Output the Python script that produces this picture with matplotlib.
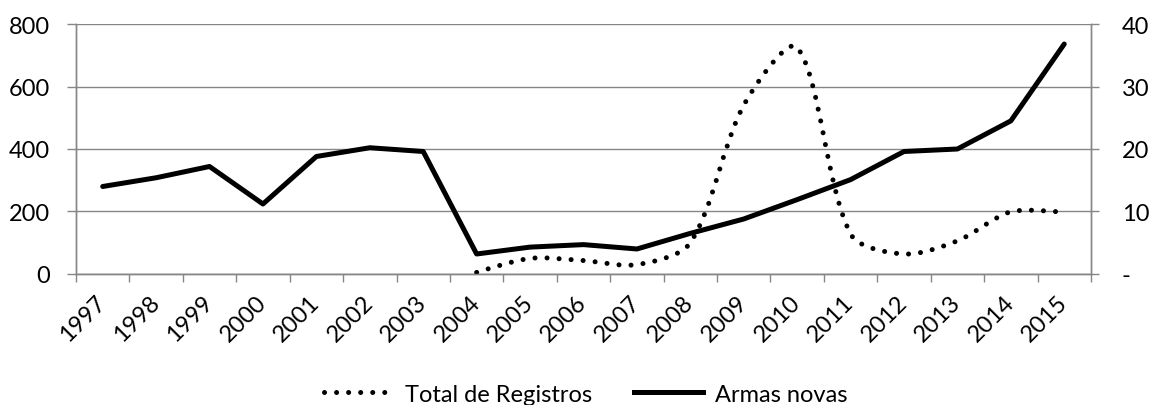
import numpy as np
import matplotlib
matplotlib.use("Agg")
import matplotlib.pyplot as plt
from matplotlib.path import Path
from matplotlib.patches import PathPatch
from matplotlib.lines import Line2D

# Series values
years = ["1997", "1998", "1999", "2000", "2001", "2002", "2003", "2004", "2005", "2006",
         "2007", "2008", "2009", "2010", "2011", "2012", "2013", "2014", "2015"]
armas_novas = [14.0, 15.4, 17.2, 11.2, 18.8, 20.2, 19.6, 3.2, 4.3, 4.7,
               4.0, 6.5, 8.8, 11.9, 15.1, 19.6, 20.0, 24.5, 36.8]
registros_years = years[7:]
total_registros = [5, 50, 43, 30, 100, 540, 725, 128, 64, 106, 199, 197]

left_ticks = [0, 200, 400, 600, 800]
right_ticks = [0, 10, 20, 30, 40]
right_labels = ["-", "10", "20", "30", "40"]

GRAY = "#868686"

plt.rcParams["font.family"] = ["Lato", "DejaVu Sans"]
plt.rcParams["font.size"] = 17


def smooth_path(ax, x, y, t=0.3):
    # bezier through the points, control arms scaled by segment length (in pixels)
    pts = ax.transData.transform(np.column_stack([x, y]).astype(float))
    n = len(pts)
    left = pts.copy()
    right = pts.copy()
    for i in range(1, n - 1):
        d01 = np.hypot(*(pts[i] - pts[i - 1]))
        d12 = np.hypot(*(pts[i + 1] - pts[i]))
        tan = pts[i + 1] - pts[i - 1]
        left[i] = pts[i] - t * d01 / (d01 + d12) * tan
        right[i] = pts[i] + t * d12 / (d01 + d12) * tan
    verts = [pts[0]]
    codes = [Path.MOVETO]
    for i in range(n - 1):
        verts += [right[i], left[i + 1], pts[i + 1]]
        codes += [Path.CURVE4] * 3
    verts = ax.transData.inverted().transform(np.array(verts))
    return Path(verts, codes)


fig = plt.figure(figsize=(11.53, 4.06), dpi=100)
ax = fig.add_axes([0.0659, 0.3227, 0.8803, 0.6157])
ax2 = ax.twinx()

ax.set_xlim(-0.5, len(years) - 0.5)
ax.set_ylim(0, 800)
ax2.set_ylim(0, 40)

xpos = np.arange(len(years))
reg_pos = np.array([years.index(y) for y in registros_years])

dot_style = (0, (0.01, 2.4))
patch = PathPatch(smooth_path(ax, reg_pos, total_registros), fill=False, lw=3.6,
                  linestyle=dot_style, capstyle="round", color="black", zorder=3)
ax.add_patch(patch)
ax2.plot(xpos, armas_novas, color="black", lw=3.6,
         solid_joinstyle="round", solid_capstyle="round", zorder=3)

ax.set_yticks(left_ticks)
ax.yaxis.grid(True, color=GRAY, lw=1.0)
ax.set_axisbelow(True)
ax2.set_yticks(right_ticks)
ax2.set_yticklabels(right_labels)

ax.set_xticks(xpos)
ax.set_xticklabels(years, rotation=45, ha="right", va="center", rotation_mode="anchor")
ax.set_xticks(np.arange(-0.5, len(years)), minor=True)
ax.tick_params(axis="x", which="major", length=0, pad=18)
ax.tick_params(axis="x", which="minor", length=6, width=1, color=GRAY)
ax.tick_params(axis="y", length=6.5, width=1, color=GRAY, pad=12)
ax2.tick_params(axis="y", length=6, width=1, color=GRAY, pad=16)

for a in (ax, ax2):
    a.spines["top"].set_visible(False)
    for s in ("left", "right", "bottom"):
        a.spines[s].set_color(GRAY)
        a.spines[s].set_linewidth(1.0)

handles = [
    Line2D([], [], color="black", lw=3.6, linestyle=dot_style, dash_capstyle="round"),
    Line2D([], [], color="black", lw=3.6),
]
fig.legend(handles, ["Total de Registros", "Armas novas"], loc="center",
           bbox_to_anchor=(0.508, 0.027), ncol=2, frameon=False,
           handlelength=2.9, handletextpad=0.5, columnspacing=1.8)

fig.savefig("out.png", dpi=100)
